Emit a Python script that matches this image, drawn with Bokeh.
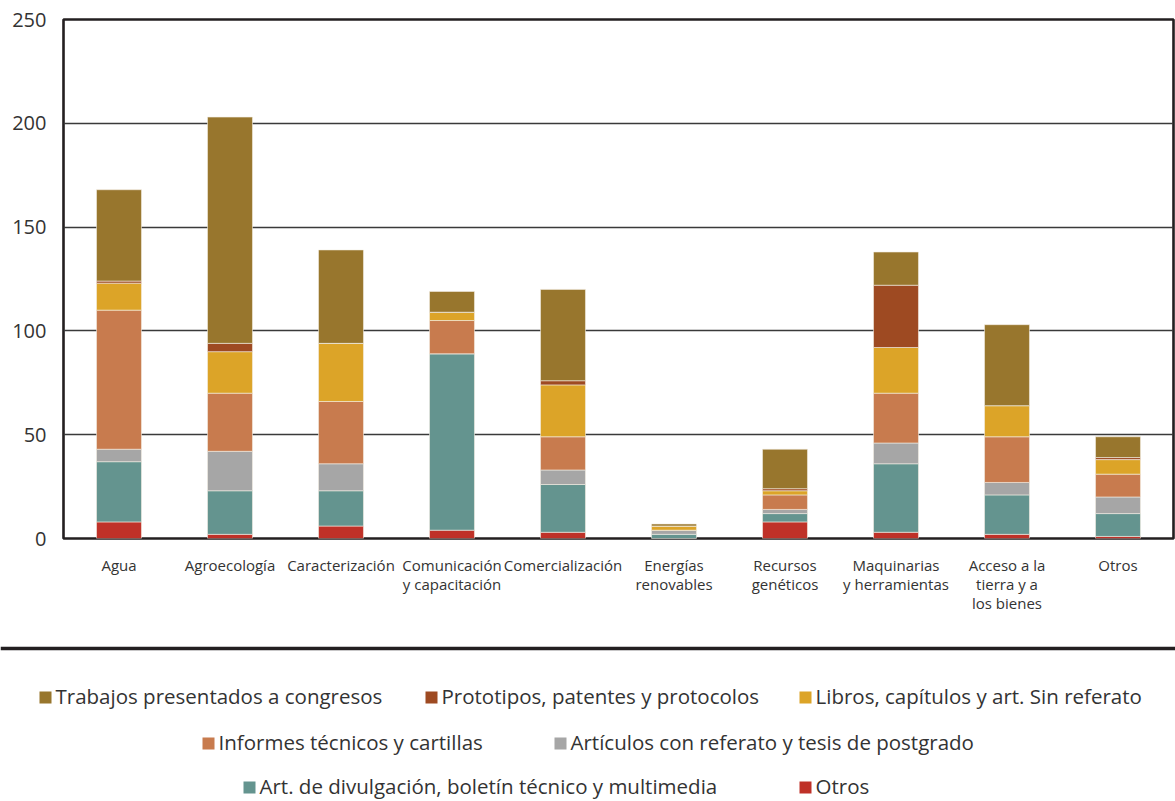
from bokeh.plotting import figure
from bokeh.models import Range1d, Span, ColumnDataSource, LinearAxis, FixedTicker
from bokeh.layouts import column
from bokeh.embed import file_html
from bokeh.resources import INLINE
from bokeh.core.properties import value

# ---------------- data ----------------
categories = ["Agua", "Agroecología", "Caracterización", "Comunicación y capacitación",
              "Comercialización", "Energías renovables", "Recursos genéticos",
              "Maquinarias y herramientas", "Acceso a la tierra y a los bienes", "Otros"]
label_line1 = ["Agua", "Agroecología", "Caracterización", "Comunicación", "Comercialización",
               "Energías", "Recursos", "Maquinarias", "Acceso a la", "Otros"]
label_line2 = ["", "", "", "y capacitación", "", "renovables", "genéticos",
               "y herramientas", "tierra y a", ""]
label_line3 = ["", "", "", "", "", "", "", "", "los bienes", ""]

otros       = [8, 2, 6, 4, 3, 0, 8, 3, 2, 1]
divulgacion = [29, 21, 17, 85, 23, 2, 4, 33, 19, 11]
articulos   = [6, 19, 13, 0, 7, 2, 2, 10, 6, 8]
informes    = [67, 28, 30, 16, 16, 0, 7, 24, 22, 11]
libros      = [13, 20, 28, 4, 25, 2, 2, 22, 15, 7]
prototipos  = [1, 4, 0, 0, 2, 0, 1, 30, 0, 1]
trabajos    = [44, 109, 45, 10, 44, 1, 19, 16, 39, 10]

y_ticks = [0, 50, 100, 150, 200, 250]

# legend order (as in the reference legend)
legend_names = ["Trabajos presentados a congresos", "Prototipos, patentes y protocolos",
                "Libros, capítulos y art. Sin referato", "Informes técnicos y cartillas",
                "Artículos con referato y tesis de postgrado",
                "Art. de divulgación, boletín técnico y multimedia", "Otros"]
legend_colors = ["#98762d", "#9e4a22", "#dca428", "#c87b4e", "#a6a6a6", "#64948f", "#bf3128"]

# stacking order bottom -> top
stack_keys = ["otros", "divulgacion", "articulos", "informes", "libros", "prototipos", "trabajos"]
stack_colors = ["#bf3128", "#64948f", "#a6a6a6", "#c87b4e", "#dca428", "#9e4a22", "#98762d"]

positions = list(range(1, len(categories) + 1))   # category slots on the x scale

src = ColumnDataSource(dict(x=positions, cat=categories, otros=otros, divulgacion=divulgacion,
                            articulos=articulos, informes=informes, libros=libros,
                            prototipos=prototipos, trabajos=trabajos))

FONT = "Open Sans"
TXT = "#333333"

# ---------------- main chart ----------------
p = figure(x_range=Range1d(0.5, len(categories) + 0.5), y_range=Range1d(0, 250),
           width=1175, height=640,
           min_border_left=63, min_border_right=2, min_border_top=19, min_border_bottom=102,
           output_backend="svg", toolbar_location=None)
p.frame_align = False

p.vbar_stack(stack_keys, x="x", width=0.405, color=stack_colors, source=src,
             line_color="#f4efe4", line_width=0.6)

p.xgrid.grid_line_color = None
p.ygrid.grid_line_color = "#3a3a3a"
p.ygrid.grid_line_width = 1.6
p.yaxis.ticker = y_ticks
p.outline_line_color = "#231f20"
p.outline_line_width = 2.6
p.background_fill_color = "white"
p.border_fill_color = "white"

p.yaxis.axis_line_color = None
p.yaxis.major_tick_line_color = None
p.yaxis.minor_tick_line_color = None
p.yaxis.major_tick_out = 0
p.yaxis.major_tick_in = 0
p.yaxis.major_label_standoff = 17
p.yaxis.major_label_text_font = FONT
p.yaxis.major_label_text_font_size = "20px"
p.yaxis.major_label_text_color = TXT


def style_xaxis(ax, lines, standoff):
    ticks = [pos for pos, s in zip(positions, lines) if s]
    ax.ticker = FixedTicker(ticks=ticks, minor_ticks=[])
    ax.major_label_overrides = {pos: s for pos, s in zip(positions, lines) if s}
    ax.axis_line_color = None
    ax.major_tick_line_color = None
    ax.minor_tick_line_color = None
    ax.major_tick_out = 0
    ax.major_tick_in = 0
    ax.minor_tick_out = 0
    ax.minor_tick_in = 0
    ax.major_label_standoff = standoff
    ax.major_label_text_font = FONT
    ax.major_label_text_font_size = "15px"
    ax.major_label_text_color = TXT


style_xaxis(p.xaxis[0], label_line1, 16)
for lines in (label_line2, label_line3):
    extra = LinearAxis()
    style_xaxis(extra, lines, -4)
    p.add_layout(extra, "below")

# ---------------- legend panel ----------------
p2 = figure(x_range=Range1d(0, 1175), y_range=Range1d(0, 161),
            width=1175, height=161, min_border=0,
            min_border_left=0, min_border_right=0, min_border_top=0, min_border_bottom=0,
            x_axis_location=None, y_axis_location=None,
            output_backend="svg", toolbar_location=None)
p2.frame_align = False
p2.grid.grid_line_color = None
p2.outline_line_color = None
p2.add_layout(Span(location=153, dimension="width", line_color="#231f20", line_width=3.5))

# layout positions of legend entries (px inside the legend panel, y measured upward)
tx_x = [55, 441, 815, 218, 570, 259, 815]
tx_y = [106, 106, 106, 60, 60, 16, 16]
sq_x = [x - 10 for x in tx_x]
sq_y = [y - 2 for y in tx_y]

leg = ColumnDataSource(dict(sx=sq_x, sy=sq_y, tx=tx_x, ty=tx_y,
                            label=legend_names, color=legend_colors))
p2.rect(x="sx", y="sy", width=12, height=12, fill_color="color", line_color=None, source=leg)
p2.text(x="tx", y="ty", text="label", source=leg, text_font=value(FONT),
        text_font_size="20.5px", text_baseline="alphabetic", text_align="left",
        text_color=TXT)

layout = column(p, p2, spacing=0)
open("out.html", "w").write(file_html(layout, INLINE))
